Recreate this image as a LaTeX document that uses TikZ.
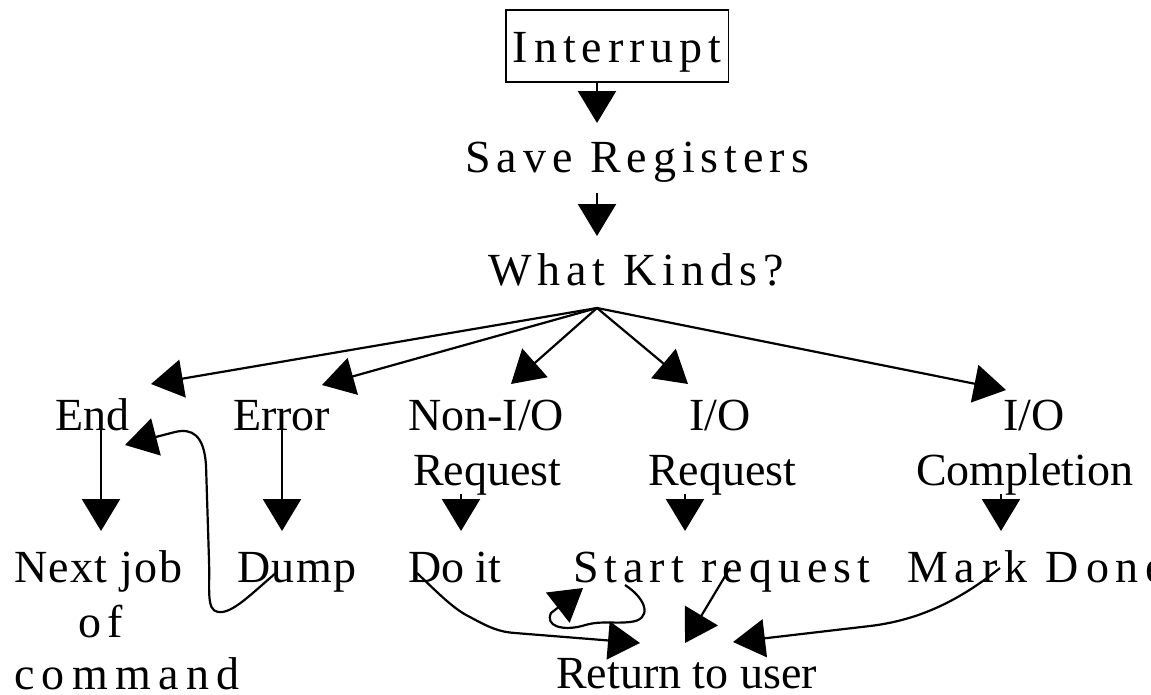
\documentclass[tikz,border=0pt]{standalone}
\usepackage{fontspec}
\setmainfont{Liberation Serif}
\newfontfamily\spcd[LetterSpace=13]{Liberation Serif}
\newfontfamily\spnarrow[LetterSpace=3]{Liberation Serif}
\newfontfamily\spwide[LetterSpace=16]{Liberation Serif}
\newfontfamily\spmark[LetterSpace=15]{Liberation Serif}
\usetikzlibrary{arrows.meta}
\begin{document}
\begin{tikzpicture}[x=1pt,y=-1pt,
  lbl/.style={anchor=base west,inner sep=0pt,font=\fontsize{46}{50}\selectfont},
  slbl/.style={anchor=base west,inner sep=0pt,font=\fontsize{46}{50}\selectfont\spcd},
  arr/.style={line width=2.2pt,-{Triangle[length=32pt,width=38pt]}},
  crv/.style={line width=2.2pt,-{Triangle[length=32pt,width=38pt]}}]
\useasboundingbox (0,0) rectangle (1151,694);
\clip (0,0) rectangle (1151,694);
% nodes
\node[slbl,draw,line width=1.6pt,inner xsep=7pt,inner ysep=0pt,text height=52pt,text depth=20pt] (int) at (505,62) {Interrupt};
\node[slbl] (save) at (465,172) {Save Registers};
\node[slbl] (kind) at (488,285) {What Kinds?};
\node[lbl] (end) at (55,430) {End};
\node[lbl] (err) at (233,430) {Error};
\node[lbl] (nio1) at (408,430) {Non-I/O};
\node[lbl] (nio2) at (413,485) {Request};
\node[lbl] (io1) at (689,430) {I/O};
\node[lbl] (io2) at (648,485) {Request};
\node[lbl] (ioc1) at (1003,430) {I/O};
\node[lbl] (ioc2) at (916,485) {Completion};
\node[lbl,font=\fontsize{46}{50}\selectfont\spnarrow] (next1) at (14,582) {Next job};
\node[slbl] (next2) at (78,637) {of};
\node[lbl,font=\fontsize{46}{50}\selectfont\spwide] (next3) at (14,689) {command};
\node[lbl,font=\fontsize{46}{50}\selectfont\spnarrow] (dump) at (237,582) {Dump};
\node[lbl] (doit) at (408,582) {Do it};
\node[slbl] (start) at (573,582) {Start request};
\node[lbl,font=\fontsize{46}{50}\selectfont\spmark] (mark) at (907,582) {Mark Done};
\node[lbl] (ret) at (556,688) {Return to user};
% coordinates
\coordinate (a1) at (597,82);   \coordinate (a1t) at (597,123);
\coordinate (a2) at (597,193);  \coordinate (a2t) at (597,236);
\coordinate (fan) at (597,308);
\coordinate (tEnd) at (151,384);
\coordinate (tErr) at (322,385);
\coordinate (tNio) at (511,384);
\coordinate (tIo) at (688,384);
\coordinate (tIoc) at (1006,390);
\coordinate (e0) at (101,418);  \coordinate (e1) at (101,531);
\coordinate (r0) at (282,418);  \coordinate (r1) at (282,531);
\coordinate (n0) at (461,494);  \coordinate (n1) at (461,531);
\coordinate (i0) at (685,494);  \coordinate (i1) at (685,531);
\coordinate (c0) at (1001,494); \coordinate (c1) at (1001,531);
% arrows
\draw[arr] (a1) -- (a1t);
\draw[arr] (a2) -- (a2t);
\draw[arr] (fan) -- (tEnd);
\draw[arr] (fan) -- (tErr);
\draw[arr] (fan) -- (tNio);
\draw[arr] (fan) -- (tIo);
\draw[arr] (fan) -- (tIoc);
\draw[arr] (e0) -- (e1);
\draw[arr] (r0) -- (r1);
\draw[arr] (n0) -- (n1);
\draw[arr] (i0) -- (i1);
\draw[arr] (c0) -- (c1);
% curves
\coordinate (dS) at (277,572);
\coordinate (dT) at (125,445);
\draw[crv] (dS) .. controls (250,595) and (232,614) .. (218,612)
  .. controls (206,610) and (210,590) .. (209,560) -- (206,465)
  .. controls (204,435) and (192,428) .. (175,432) -- (dT);
\coordinate (oS) at (417,573);
\coordinate (oT) at (640,643);
\draw[crv] (oS) .. controls (440,595) and (455,610) .. (470,617)
  .. controls (490,628) and (500,632) .. (515,633) -- (oT);
\coordinate (sS) at (625,585);
\coordinate (sT) at (583,588);
\draw[crv] (sS) .. controls (648,600) and (652,620) .. (630,622)
  .. controls (612,624) and (600,620) .. (582,626)
  .. controls (562,631) and (545,626) .. (551,613) -- (sT);
\coordinate (s2S) at (730,568);
\coordinate (s2T) at (685,643);
\draw[arr] (s2S) -- (s2T);
\coordinate (mS) at (1000,568);
\coordinate (mT) at (733,642);
\draw[crv] (mS) .. controls (960,600) and (920,620) .. (870,626) -- (mT);
\end{tikzpicture}
\end{document}
